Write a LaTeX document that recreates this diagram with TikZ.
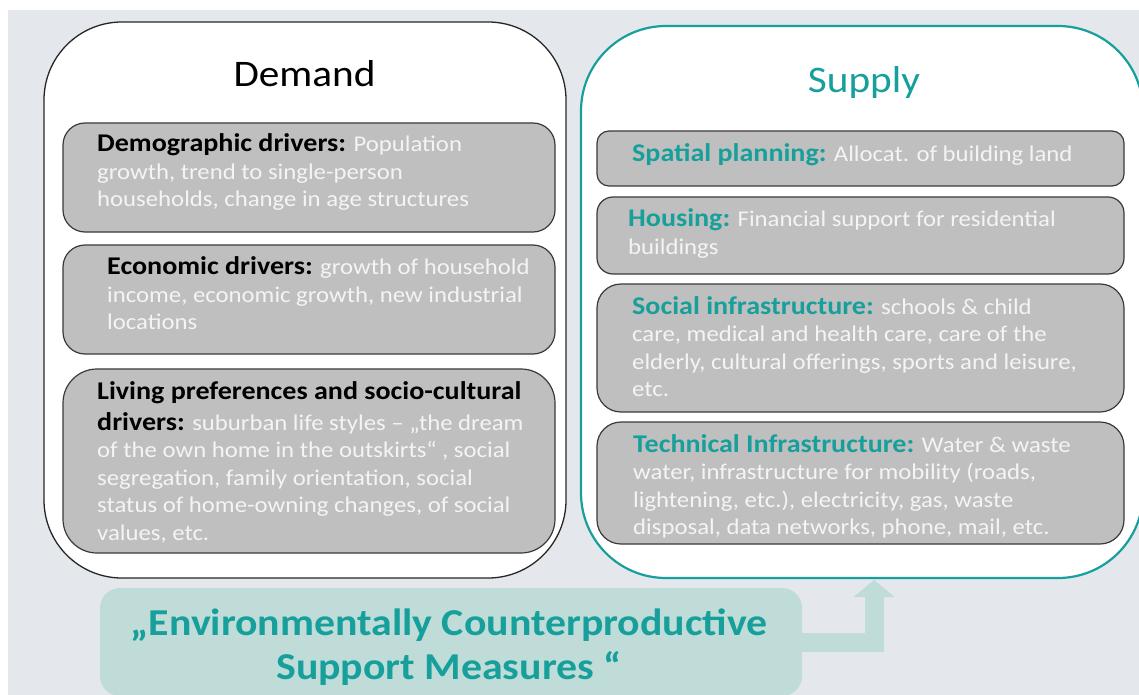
\documentclass[tikz,border=0pt]{standalone}
\usepackage{fontspec}
\setmainfont{Carlito}[FakeStretch=1.1]
\usetikzlibrary{arrows.meta}
\definecolor{bggray}{HTML}{E4E7EC}
\definecolor{teal1}{HTML}{17A09B}
\definecolor{boxgray}{HTML}{BFBFBF}
\definecolor{boxline}{HTML}{3A3A3A}
\definecolor{txtwhite}{HTML}{F4F4F4}
\definecolor{ecsmfill}{HTML}{BFDCD9}
\newcommand\dlab[1]{{\fontsize{25.5}{27.5}\selectfont\textcolor{black}{\bfseries #1}}}
\newcommand\slab[1]{{\fontsize{25.5}{27.5}\selectfont\textcolor{teal1}{\bfseries #1}}}
\begin{document}
\begin{tikzpicture}[x=1pt,y=-1pt,
  panel/.style={rectangle, anchor=north west, inner sep=0pt, outer sep=0pt},
  graybox/.style={panel, fill=boxgray, draw=boxline, line width=1.2pt},
  body/.style={anchor=north west, inner sep=0pt, align=left, text=txtwhite,
    font=\fontsize{22.5}{27.5}\selectfont},
  title/.style={anchor=base, inner sep=0pt, font=\fontsize{37.5}{44}\selectfont}
]
\useasboundingbox (0,0) rectangle (1139,695);
\clip (0,0) rectangle (1139,695);
\fill[white] (0,0) rectangle (1139,695);
\fill[bggray] (8,10) rectangle (1139,695);

% Demand panel
\node[panel, draw=black!85, fill=white, line width=1.3pt, rounded corners=78pt,
  minimum width=522pt, minimum height=556pt] (demand) at (44,22) {};
\node[title, text=black] (demandt) at (304.5,86.7) {Demand};

\node[graybox, rounded corners=22pt, minimum width=492pt, minimum height=109pt] (demo) at (63,123) {};
\node[graybox, rounded corners=22pt, minimum width=492pt, minimum height=109pt] (econ) at (63,245) {};
\node[graybox, rounded corners=34pt, minimum width=492pt, minimum height=184pt] (living) at (63,369) {};

\node[body] (demotx) at (97,132.5) {\strut\dlab{Demographic drivers:} Population\\
growth, trend to single-person\\
households, change in age structures};
\node[body] (econtx) at (107,255.5) {\strut\dlab{Economic drivers:} growth of household\\
income, economic growth, new industrial\\
locations};
\node[body] (livingtx) at (97,380) {\strut\dlab{Living preferences and socio-cultural}\\[3.5pt]
\dlab{drivers:} suburban life styles – „the dream\\
of the own home in the outskirts“ , social\\
segregation, family orientation, social\\
status of home-owning changes, of social\\
values, etc.};

% Supply panel
\node[panel, draw=teal1, fill=white, line width=2.2pt, rounded corners=85pt,
  minimum width=562pt, minimum height=552pt] (supply) at (581,26) {};
\node[title, text=teal1] (supplyt) at (864,93) {Supply};

\node[graybox, rounded corners=12pt, minimum width=527pt, minimum height=55pt] (spatial) at (597,131) {};
\node[graybox, rounded corners=16pt, minimum width=527pt, minimum height=77pt] (housing) at (597,197) {};
\node[graybox, rounded corners=24pt, minimum width=527pt, minimum height=128pt] (social) at (597,284) {};
\node[graybox, rounded corners=24pt, minimum width=527pt, minimum height=122pt] (tech) at (597,422) {};

\node[body] (spatialtx) at (632,142.5) {\strut\slab{Spatial planning:} Allocat. of building land};
\node[body] (housingtx) at (628,207.5) {\strut\slab{Housing:} Financial support for residential\\
buildings};
\node[body] (socialtx) at (632,295) {\strut\slab{Social infrastructure:} schools \& child\\
care, medical and health care, care of the\\
elderly, cultural offerings, sports and leisure,\\
etc.};
\node[body] (techtx) at (633,433) {\strut\slab{Technical Infrastructure:} Water \& waste\\
water, infrastructure for mobility (roads,\\
lightening, etc.), electricity, gas, waste\\
disposal, data networks, phone, mail, etc.};

% ECSM box and arrow
\node[panel, fill=ecsmfill, rounded corners=20pt, minimum width=702pt, minimum height=108pt] (ecsm) at (100,588) {};
\node[anchor=north, inner sep=0pt, align=center, text=teal1,
  font=\fontsize{38}{44}\selectfont\bfseries] (ecsmtx) at (449,604.2)
  {\strut„Environmentally Counterproductive\\ Support Measures “};
\coordinate (tip) at (874,580);
\draw[draw=ecsmfill, line width=19pt, -{Triangle[width=40pt,length=17pt]}] (ecsm.east) -| (tip);
\end{tikzpicture}
\end{document}
